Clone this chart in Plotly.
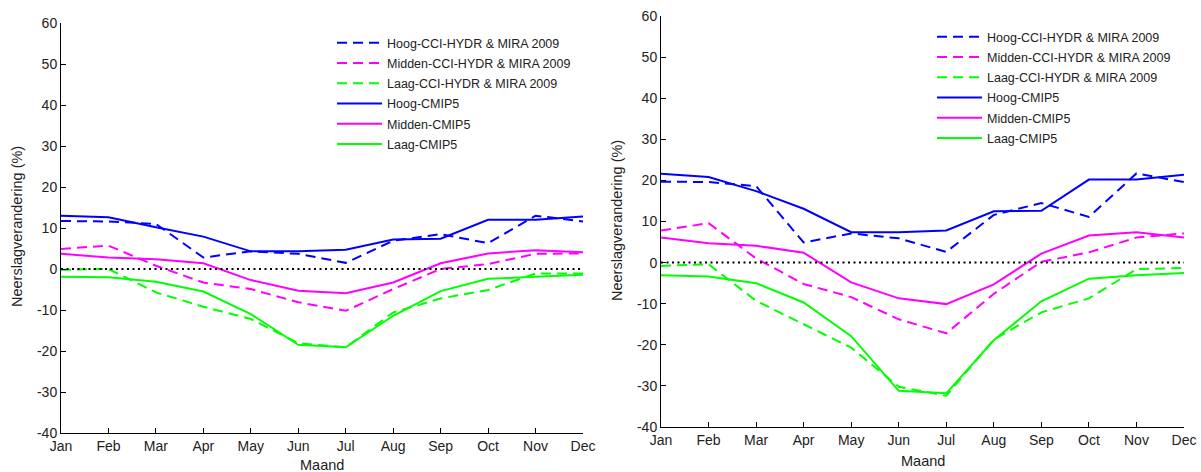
import plotly.graph_objects as go
from plotly.subplots import make_subplots

months = ["Jan", "Feb", "Mar", "Apr", "May", "Jun", "Jul", "Aug", "Sep", "Oct", "Nov", "Dec"]
y_ticks = [-40, -30, -20, -10, 0, 10, 20, 30, 40, 50, 60]
y_tick_labels = ["-40", "-30", "-20", "-10", "0", "10", "20", "30", "40", "50", "60"]

# Left panel: precipitation change (%) per month
hoog_cci_a = [11.7, 11.6, 11.0, 2.8, 4.3, 3.7, 1.5, 6.9, 8.5, 6.3, 13.0, 11.6]
midden_cci_a = [4.9, 5.7, 0.8, -3.3, -4.9, -8.1, -10.2, -4.9, 0.0, 1.2, 3.7, 3.8]
laag_cci_a = [-0.2, 0.0, -5.7, -9.2, -12.2, -18.1, -19.1, -10.6, -7.2, -5.1, -1.1, -1.1]
hoog_cmip_a = [13.0, 12.6, 10.2, 7.9, 4.3, 4.3, 4.7, 7.2, 7.4, 12.0, 12.0, 12.8]
midden_cmip_a = [3.7, 2.8, 2.4, 1.4, -2.7, -5.3, -5.9, -3.3, 1.4, 3.8, 4.6, 4.1]
laag_cmip_a = [-1.9, -2.0, -3.1, -5.5, -11.0, -18.5, -19.1, -11.4, -5.4, -2.4, -1.9, -1.4]

# Right panel
hoog_cci_b = [19.7, 19.6, 18.6, 4.9, 7.1, 5.9, 2.6, 11.6, 14.5, 11.1, 21.7, 19.6]
midden_cci_b = [7.8, 9.6, 1.0, -5.2, -8.4, -13.8, -17.2, -7.6, 0.2, 2.5, 6.1, 7.1]
laag_cci_b = [-0.8, -0.4, -9.3, -15.0, -20.7, -30.2, -32.4, -18.7, -12.1, -8.7, -1.6, -1.3]
hoog_cmip_b = [21.6, 20.8, 17.4, 13.1, 7.4, 7.4, 7.8, 12.5, 12.6, 20.2, 20.2, 21.4]
midden_cmip_b = [6.1, 4.7, 4.1, 2.4, -4.8, -8.7, -10.1, -5.3, 2.2, 6.6, 7.4, 6.1]
laag_cmip_b = [-3.1, -3.4, -5.0, -9.7, -17.9, -31.2, -31.8, -18.9, -9.4, -3.9, -3.1, -2.5]

series_names = [
    "Hoog-CCI-HYDR & MIRA 2009",
    "Midden-CCI-HYDR & MIRA 2009",
    "Laag-CCI-HYDR & MIRA 2009",
    "Hoog-CMIP5",
    "Midden-CMIP5",
    "Laag-CMIP5",
]
colors = ["#0000FF", "#FF00FF", "#00FF00"] * 2
dashes = ["10px,6px"] * 3 + ["solid"] * 3

panels = [
    [hoog_cci_a, midden_cci_a, laag_cci_a, hoog_cmip_a, midden_cmip_a, laag_cmip_a],
    [hoog_cci_b, midden_cci_b, laag_cci_b, hoog_cmip_b, midden_cmip_b, laag_cmip_b],
]

FONT = "Liberation Sans, Arial, sans-serif"

fig = make_subplots(rows=1, cols=2)

for p, data in enumerate(panels):
    legend_id = "legend" if p == 0 else "legend2"
    for i, (name, vals) in enumerate(zip(series_names, data)):
        fig.add_trace(
            go.Scatter(
                x=months, y=vals, mode="lines", name=name,
                line=dict(color=colors[i], width=2, dash=dashes[i]),
                legend=legend_id, legendgroup=f"{p}-{i}",
            ),
            row=1, col=p + 1,
        )
    fig.add_hline(y=0, line=dict(color="black", width=2, dash="2px,3.5px"),
                  row=1, col=p + 1)

axis_common = dict(
    showline=True, linecolor="black", linewidth=1, mirror=False,
    ticks="inside", ticklen=5, tickcolor="black", tickwidth=1,
    showgrid=False, zeroline=False, automargin=False,
    tickfont=dict(family=FONT, size=14, color="#222"),
)

fig.update_xaxes(**axis_common, type="category", range=[0, 11])
fig.update_yaxes(**axis_common, range=[-40, 60], tickmode="array",
                 tickvals=y_ticks, ticktext=y_tick_labels)

W, H = 1201, 472
fig.update_layout(
    width=W, height=H,
    margin=dict(l=0, r=0, t=0, b=0, autoexpand=False),
    paper_bgcolor="white", plot_bgcolor="white",
    xaxis=dict(domain=[61 / W, 583 / W]),
    xaxis2=dict(domain=[661 / W, 1184 / W]),
    yaxis=dict(domain=[1 - 433 / H, 1 - 23 / H]),
    yaxis2=dict(domain=[1 - 427 / H, 1 - 16 / H]),
    legend=dict(
        x=332 / W, y=1 - 28 / H, xanchor="left", yanchor="top",
        bgcolor="rgba(0,0,0,0)", itemwidth=45, tracegroupgap=1,
        font=dict(family=FONT, size=12.5, color="#222"),
    ),
    legend2=dict(
        x=932 / W, y=1 - 22 / H, xanchor="left", yanchor="top",
        bgcolor="rgba(0,0,0,0)", itemwidth=45, tracegroupgap=1,
        font=dict(family=FONT, size=12.5, color="#222"),
    ),
    showlegend=True,
)

# Axis titles
for cx, cy in [((61 + 583) / 2, 465), ((661 + 1184) / 2, 461)]:
    fig.add_annotation(
        x=cx / W, y=1 - cy / H, xref="paper", yref="paper",
        text="Maand", showarrow=False, xanchor="center", yanchor="middle",
        font=dict(family=FONT, size=14.5, color="#222"),
    )
for tx, ty in [(17, 227), (617, 221)]:
    fig.add_annotation(
        x=tx / W, y=1 - ty / H, xref="paper", yref="paper",
        text="Neerslagverandering (%)", textangle=-90, showarrow=False,
        xanchor="center", yanchor="middle",
        font=dict(family=FONT, size=14.5, color="#222"),
    )

fig.write_html("out.html")
